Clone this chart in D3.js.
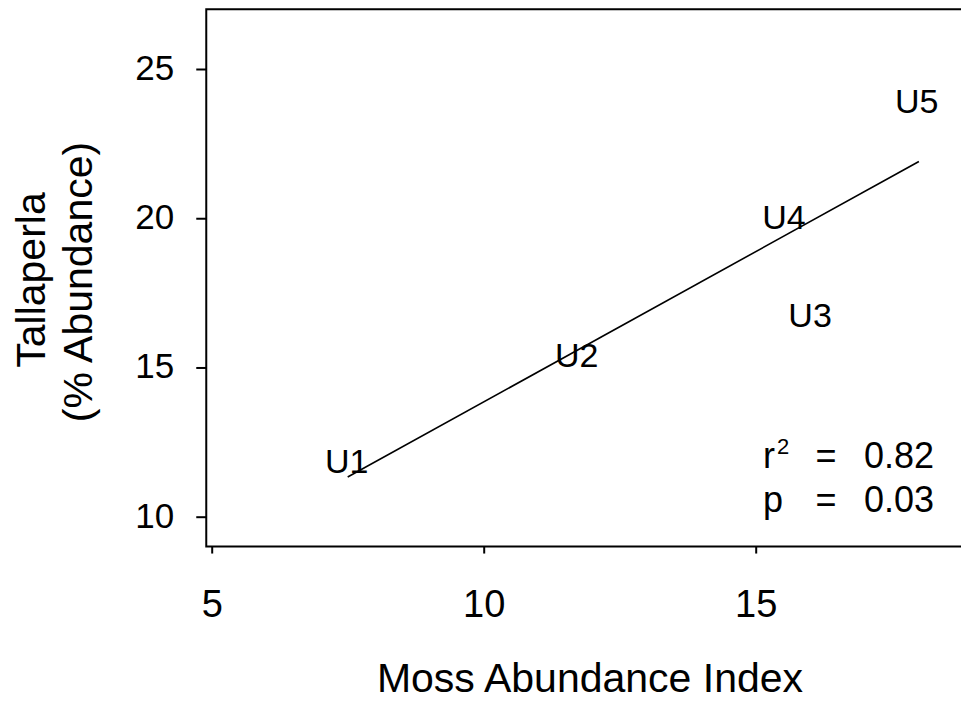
<!DOCTYPE html>
<html>
<head>
<meta charset="utf-8">
<script src="https://cdn.jsdelivr.net/npm/d3@7"></script>
<style>
  body { margin: 0; background: #fff; }
  svg { display: block; font-family: "Liberation Sans", Arial, sans-serif; }
</style>
</head>
<body>
<div id="chart"></div>
<script>
// site labels and values
let siteLabels = ["U1", "U2", "U3", "U4", "U5"];
let mossIndex = [7.48, 11.71, 16.0, 15.52, 17.96];
let tallaperla = [11.88, 15.42, 16.76, 20.04, 23.95];

// regression line end points
let fitX = [7.5, 18.0];
let fitY = [11.33, 21.9];

let xTicks = [5, 10, 15];
let yTicks = [10, 15, 20, 25];

let width = 961;
let height = 703;

let svg = d3.select("#chart")
    .append("svg")
    .attr("width", width)
    .attr("height", height);

let x = d3.scaleLinear()
    .domain([5, 15])
    .range([211.7, 755.7]);

let y = d3.scaleLinear()
    .domain([10, 25])
    .range([516.7, 69]);

// plot frame (left, top, bottom; right edge runs off the page)
let frameL = x(4.9), frameR = x(18.85), frameT = y(27), frameB = y(9);
svg.append("path")
    .attr("d", `M${frameR},${frameT}H${frameL}V${frameB}H${frameR}`)
    .attr("fill", "none")
    .attr("stroke", "#000")
    .attr("stroke-width", 2);

// y axis
let yAxis = svg.append("g")
    .attr("transform", `translate(${frameL},0)`)
    .call(d3.axisLeft(y).tickValues(yTicks).tickSize(10).tickSizeOuter(0).tickPadding(22));
yAxis.select(".domain").remove();
yAxis.selectAll(".tick line").attr("stroke", "#000").attr("stroke-width", 2);
yAxis.selectAll(".tick text")
    .attr("font-family", "Liberation Sans, Arial, sans-serif")
    .attr("font-size", 35)
    .attr("fill", "#000")
    .attr("dy", "0.3em");

// x axis
let xAxis = svg.append("g")
    .attr("transform", `translate(0,${frameB})`)
    .call(d3.axisBottom(x).tickValues(xTicks).tickSize(7).tickSizeOuter(0));
xAxis.select(".domain").remove();
xAxis.selectAll(".tick line").attr("stroke", "#000").attr("stroke-width", 2);
xAxis.selectAll(".tick text")
    .attr("font-family", "Liberation Sans, Arial, sans-serif")
    .attr("font-size", 38)
    .attr("fill", "#000")
    .attr("y", 70)
    .attr("dy", 0);

// regression line
svg.append("line")
    .attr("x1", x(fitX[0])).attr("y1", y(fitY[0]))
    .attr("x2", x(fitX[1])).attr("y2", y(fitY[1]))
    .attr("stroke", "#000")
    .attr("stroke-width", 1.6);

// site labels in place of markers
svg.append("g")
    .selectAll("text")
    .data(siteLabels)
    .join("text")
        .attr("x", (d, i) => x(mossIndex[i]))
        .attr("y", (d, i) => y(tallaperla[i]))
        .attr("dy", "0.36em")
        .attr("text-anchor", "middle")
        .attr("font-size", 34)
        .text(d => d);

// statistics
let stats = svg.append("g").attr("font-size", 36).attr("fill", "#000");
let r2 = stats.append("text").attr("x", 763).attr("y", 468);
r2.append("tspan").text("r");
r2.append("tspan").attr("font-size", 22).attr("dx", 2).attr("dy", -14).text("2");
stats.append("text").attr("x", 826).attr("y", 468).attr("text-anchor", "middle").text("=");
stats.append("text").attr("x", 934).attr("y", 468).attr("text-anchor", "end").text("0.82");
stats.append("text").attr("x", 763).attr("y", 512).text("p");
stats.append("text").attr("x", 826).attr("y", 512).attr("text-anchor", "middle").text("=");
stats.append("text").attr("x", 934).attr("y", 512).attr("text-anchor", "end").text("0.03");

// axis titles
svg.append("text")
    .attr("x", 590)
    .attr("y", 692)
    .attr("text-anchor", "middle")
    .attr("font-size", 41)
    .text("Moss Abundance Index");

svg.append("text")
    .attr("transform", "translate(45,280) rotate(-90)")
    .attr("text-anchor", "middle")
    .attr("font-size", 41)
    .text("Tallaperla");

svg.append("text")
    .attr("transform", "translate(92,282) rotate(-90)")
    .attr("text-anchor", "middle")
    .attr("font-size", 41)
    .text("(% Abundance)");
</script>
</body>
</html>
